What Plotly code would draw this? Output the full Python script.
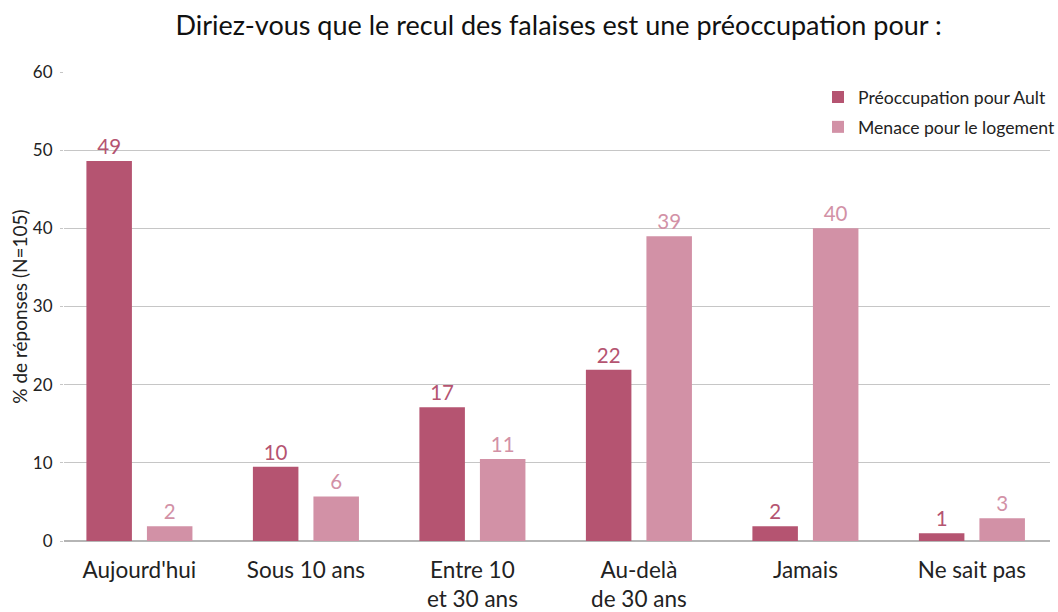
import plotly.graph_objects as go

categories = ["Aujourd'hui", "Sous 10 ans", "Entre 10<br>et 30 ans", "Au-delà<br>de 30 ans", "Jamais", "Ne sait pas"]
preoccupation_ault = [48.6, 9.5, 17.1, 21.9, 1.9, 1.0]
menace_logement = [1.9, 5.7, 10.5, 39.0, 40.0, 2.9]
labels_ault = ["49", "10", "17", "22", "2", "1"]
labels_logement = ["2", "6", "11", "39", "40", "3"]
y_ticks = [0, 10, 20, 30, 40, 50, 60]

DARK = "#b55471"
LIGHT = "#d291a6"
FONT = "Lato"

fig = go.Figure()
fig.add_trace(go.Bar(
    x=categories, y=preoccupation_ault, name="Préoccupation pour Ault",
    legendgroup="a",
    marker=dict(color=DARK, line=dict(width=0)),
    text=labels_ault, textposition="outside", cliponaxis=False,
    textfont=dict(color=DARK, size=20.5, family=FONT),
))
fig.add_trace(go.Bar(
    x=categories, y=menace_logement, name="Menace pour le logement",
    legendgroup="b",
    marker=dict(color=LIGHT, line=dict(width=0)),
    text=labels_logement, textposition="outside", cliponaxis=False,
    textfont=dict(color=LIGHT, size=20.5, family=FONT),
))

fig.update_layout(
    width=1058, height=612,
    margin=dict(l=64, r=8, t=72, b=71, autoexpand=False),
    paper_bgcolor="white", plot_bgcolor="white",
    font=dict(family=FONT, color="#222222"),
    barmode="group", bargap=0.273, bargroupgap=0.248,
    title=dict(text="Diriez-vous que le recul des falaises est une préoccupation pour :",
               x=0.528, xanchor="center", y=0.959, yanchor="middle",
               font=dict(size=27, family=FONT, color="#111111")),
    legend=dict(x=0.7647, y=0.985, xanchor="left", yanchor="top",
                font=dict(size=17.6, family=FONT, color="#222222"),
                bgcolor="rgba(0,0,0,0)", itemwidth=30, tracegroupgap=4),
    showlegend=True,
)
fig.update_xaxes(range=[-0.453, 5.469], showgrid=False, showline=False, ticks="",
                 automargin=False, ticklabelstandoff=13,
                 tickfont=dict(size=22.5, family=FONT, color="#222222"))
fig.update_yaxes(range=[0, 60], tickvals=y_ticks, showgrid=True, gridcolor="#c6c6c6",
                 gridwidth=1, zeroline=True, zerolinecolor="#b5b5b5", zerolinewidth=1.5,
                 ticks="outside", ticklen=3, tickcolor="#c6c6c6", automargin=False,
                 ticklabelstandoff=4,
                 tickfont=dict(size=17, family=FONT, color="#222222"),
                 title=dict(text="% de réponses (N=105)", font=dict(size=19, family=FONT), standoff=0))

fig.write_html("out.html", config={"displayModeBar": False},
               post_script="document.body.style.margin='0';")
